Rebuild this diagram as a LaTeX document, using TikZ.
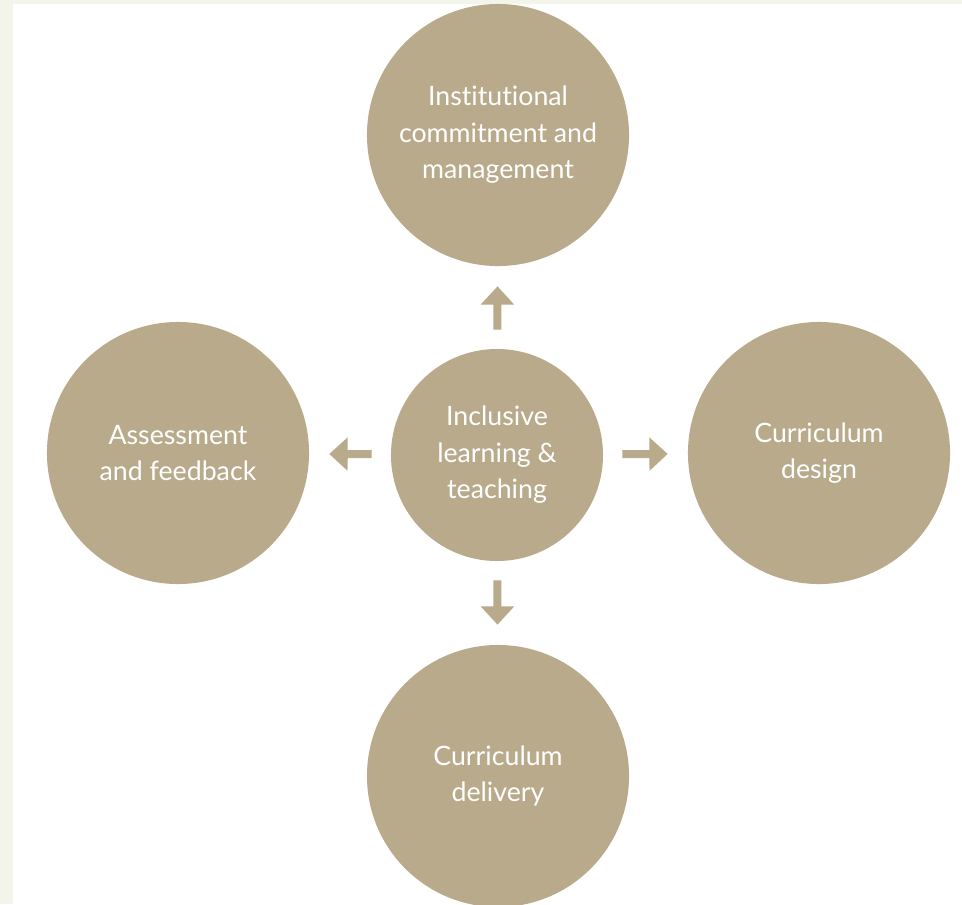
\documentclass[tikz,border=0pt]{standalone}
\usepackage{fontspec}
\setmainfont[Ligatures=NoCommon]{Lato}
\usetikzlibrary{arrows.meta}
\definecolor{sand}{HTML}{B8AA8B}
\definecolor{paper}{HTML}{F3F5EA}

\begin{document}
\begin{tikzpicture}[
    x=0.025cm, y=-0.025cm,
    area/.style={circle, fill=sand, text=white, align=center, inner sep=0pt,
        minimum size=6.55cm, font=\fontsize{19}{26}\selectfont},
    hub/.style={area, minimum size=5.3cm},
    flow/.style={draw=sand, line width=5.7pt, -{Triangle[width=23pt, length=13pt]},
        shorten <=0.475cm, shorten >=0.5cm}
]
\useasboundingbox (0,0) rectangle (962,904);
\clip (0,0) rectangle (962,904);
\fill[paper] (0,0) rectangle (962,904);
\fill[white] (13,4) rectangle (962,904);

\node[area] (top) at (498,135) {Institutional\\commitment and\\management};
\node[area] (left) at (178,453) {Assessment\\and feedback};
\node[area] (right) at (819,453) {Curriculum\\design};
\node[area] (bottom) at (498,776) {Curriculum\\delivery};
\node[hub] (hub) at (497,455) {Inclusive\\learning \&\\teaching};

\draw[flow] (hub) -- (top);
\draw[flow] (hub) -- (left);
\draw[flow] (hub) -- (right);
\draw[flow] (hub) -- (bottom);
\end{tikzpicture}
\end{document}
